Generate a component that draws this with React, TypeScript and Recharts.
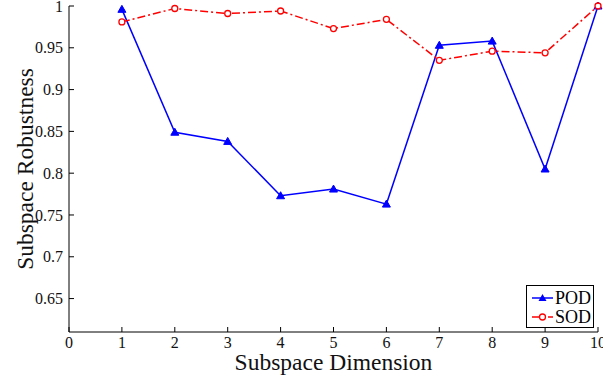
import { Label, Legend, Line, LineChart, XAxis, YAxis } from "recharts";

const dimensions = [1, 2, 3, 4, 5, 6, 7, 8, 9, 10];
const podValues = [0.996, 0.849, 0.838, 0.773, 0.781, 0.763, 0.953, 0.958, 0.805, 1.0];
const sodValues = [0.981, 0.997, 0.991, 0.994, 0.973, 0.984, 0.935, 0.946, 0.944, 1.0];

const xTicks = [0, 1, 2, 3, 4, 5, 6, 7, 8, 9, 10];
const yTicks = [0.65, 0.7, 0.75, 0.8, 0.85, 0.9, 0.95, 1];

const chartData = dimensions.map((d, i) => ({
  dim: d,
  pod: podValues[i],
  sod: sodValues[i],
}));

const FONT = "Liberation Serif";
const BLUE = "#0000ff";
const RED = "#ff0000";

const Triangle = (props: any) => {
  const { cx, cy, index } = props;
  if (cx == null || cy == null) return <g key={index} />;
  return (
    <path
      key={index}
      d={`M${cx},${cy - 4} L${cx + 4},${cy + 3} L${cx - 4},${cy + 3} Z`}
      fill={BLUE}
      stroke={BLUE}
      strokeWidth={1}
    />
  );
};

const LegendBox = () => (
  <div
    style={{
      border: "1px solid #000",
      background: "#fff",
      width: 68,
      height: 43,
      boxSizing: "border-box",
    }}
  >
    <svg width={66} height={41} style={{ display: "block" }}>
      <line x1={5} y1={12} x2={26} y2={12} stroke={BLUE} strokeWidth={1.5} />
      <path d="M15.5,8 L19.5,15 L11.5,15 Z" fill={BLUE} />
      <text x={28} y={18} fontFamily={FONT} fontSize={18} fill="#000">POD</text>
      <line x1={5} y1={31} x2={26} y2={31} stroke={RED} strokeWidth={1.5} strokeDasharray="8 3 2 3" />
      <circle cx={15.5} cy={31} r={3} fill="#fff" stroke={RED} strokeWidth={1.3} />
      <text x={28} y={37} fontFamily={FONT} fontSize={18} fill="#000">SOD</text>
    </svg>
  </div>
);

export default function App() {
  const tickStyle = { fill: "#111", fontSize: 16, fontFamily: FONT };
  return (
    <div style={{ position: "absolute", left: 0, top: 0, background: "#fff", fontFamily: FONT }}>
      <LineChart
        width={603}
        height={379}
        data={chartData}
        margin={{ top: 6, right: 5, left: 0, bottom: 0 }}
      >
        <XAxis
          xAxisId="bottom"
          dataKey="dim"
          type="number"
          domain={[0, 10]}
          ticks={xTicks}
          interval={0}
          height={47}
          tick={tickStyle}
          tickSize={-5}
          tickMargin={10}
          axisLine={{ stroke: "#000", strokeWidth: 1 }}
          tickLine={{ stroke: "#000" }}
        >
          <Label
            value="Subspace Dimension"
            position="insideBottom"
            offset={9}
            style={{ fontFamily: FONT, fontSize: 23.5, fill: "#111" }}
          />
        </XAxis>
        <XAxis
          xAxisId="top"
          orientation="top"
          dataKey="dim"
          type="number"
          domain={[0, 10]}
          ticks={xTicks}
          interval={0}
          height={0}
          tick={false}
          tickSize={-5}
          axisLine={{ stroke: "#000", strokeWidth: 1 }}
          tickLine={{ stroke: "#000" }}
        />
        <YAxis
          yAxisId="left"
          type="number"
          domain={[0.61, 1]}
          ticks={yTicks}
          interval={0}
          width={69}
          tick={tickStyle}
          tickSize={-5}
          tickMargin={11}
          tickFormatter={(v: number) => String(v)}
          axisLine={{ stroke: "#000", strokeWidth: 1 }}
          tickLine={{ stroke: "#000" }}
        >
          <Label
            value="Subspace Robustness"
            angle={-90}
            position="insideLeft"
            offset={25}
            style={{ textAnchor: "middle", fontFamily: FONT, fontSize: 23.5, fill: "#111" }}
          />
        </YAxis>
        <YAxis
          yAxisId="right"
          orientation="right"
          type="number"
          domain={[0.61, 1]}
          ticks={yTicks}
          interval={0}
          width={0}
          tick={false}
          tickSize={-5}
          axisLine={{ stroke: "#000", strokeWidth: 1 }}
          tickLine={{ stroke: "#000" }}
        />
        <Legend
          layout="vertical"
          align="center"
          verticalAlign="middle"
          wrapperStyle={{ position: "absolute", left: 526, top: 285, width: 68 }}
          content={() => <LegendBox />}
        />
        <Line
          xAxisId="bottom"
          yAxisId="left"
          type="linear"
          dataKey="pod"
          name="POD"
          stroke={BLUE}
          strokeWidth={1.5}
          dot={Triangle}
          activeDot={false}
          isAnimationActive={false}
        />
        <Line
          xAxisId="bottom"
          yAxisId="left"
          type="linear"
          dataKey="sod"
          name="SOD"
          stroke={RED}
          strokeWidth={1.5}
          strokeDasharray="8 3 2 3"
          dot={{ r: 3, fill: "#fff", stroke: RED, strokeWidth: 1.3, strokeDasharray: "" }}
          activeDot={false}
          isAnimationActive={false}
        />
      </LineChart>
    </div>
  );
}
